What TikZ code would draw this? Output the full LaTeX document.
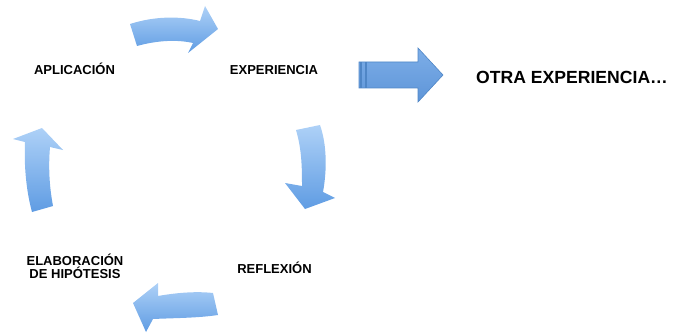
\documentclass[tikz,border=0pt]{standalone}
\usepackage{fontspec}
\setmainfont{Liberation Sans}
\usepackage{tikz}
\usetikzlibrary{positioning}
\definecolor{arrowTop}{HTML}{AED1F7}
\definecolor{arrowBot}{HTML}{5F9CE3}
\definecolor{bigTop}{HTML}{7DAEE8}
\definecolor{bigBot}{HTML}{5E95D8}
\definecolor{bigEdge}{HTML}{4F86C6}
\tikzstyle{stage} = [
  anchor=base,
  align=center,
  inner sep=0pt,
  font=\fontsize{13}{13}\selectfont\bfseries,
  ]
\tikzstyle{cycleArrow} = [
  top color=arrowTop,
  bottom color=arrowBot,
  ]
\newcommand{\tsize}[1]{\fontsize{#1}{#1}\selectfont}

\begin{document}
\begin{tikzpicture}[x=1pt,y=-1pt]
  \useasboundingbox (0,0) rectangle (682,334);

  % stages of the cycle
  \node[stage] (aplicacion) at (74.5,74.5) {APLICACIÓN};
  \node[stage] (experiencia) at (274,74.5) {EXPERIENCIA};
  \node[stage] (reflexion) at (274.5,273.3) {REFLEXIÓN};
  \node[stage] (hipotesis) at (75,278.3) {ELABORACIÓN\\DE HIPÓTESIS};
  \node[stage, font=\tsize{17.6}\bfseries] (otra) at (572,83.3) {OTRA EXPERIENCIA…};

  % curved arrows
  \shade[cycleArrow] (130,24) .. controls (155,16) and (180,16) .. (200,21)
    -- (205,6) -- (218,29) -- (188,53) -- (193,43)
    .. controls (175,39) and (155,41) .. (137,46) -- cycle;
  \shade[cycleArrow] (296,130) .. controls (302,150) and (302,170) .. (302,186)
    -- (285,183) -- (305,209) -- (335,198) -- (323,192)
    .. controls (327,170) and (327,145) .. (320,125) -- cycle;
  \shade[cycleArrow] (213,293) .. controls (195,291) and (175,293) .. (158,296)
    -- (158,283) -- (133,303) -- (146,332) -- (153,319)
    .. controls (175,318) and (198,318) .. (218,315) -- cycle;
  \shade[cycleArrow] (32,212) .. controls (26,190) and (24,165) .. (25,142)
    -- (13,139) -- (42,128) -- (63,150) -- (50,147)
    .. controls (48,170) and (50,190) .. (53,206) -- cycle;

  % arrow to the next experience
  \shade[top color=bigTop, bottom color=bigBot, draw=bigEdge, line width=0.6pt]
    (359,62) -- (418,62) -- (418,48) -- (443,75) -- (418,102) -- (418,88)
    -- (359,88) -- cycle;
  \fill[bigEdge] (360,62) rectangle (362,88);
  \fill[bigEdge] (365,62) rectangle (367,88);

\end{tikzpicture}
\end{document}
